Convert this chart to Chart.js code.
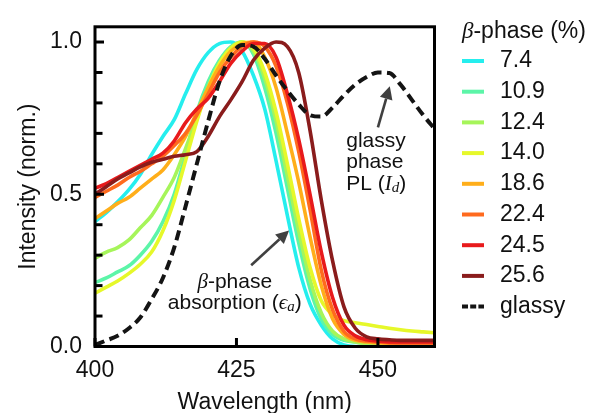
<!DOCTYPE html>
<html>
<head>
<meta charset="utf-8">
<script src="https://cdn.jsdelivr.net/npm/chart.js@4.4.1/dist/chart.umd.min.js"></script>
<style>
  html, body { margin: 0; padding: 0; background: #fff; }
</style>
</head>
<body>
<canvas id="chart" width="604" height="413"></canvas>
<script>
// Data
const wavelengths = [400,402,404,406,408,410,412,414,416,418,420,422,424,426,428,430,432,434,436,438,440,442,444,446,448,450,452,454,456,458,460];
const phaseLabels = ["7.4", "10.9", "12.4", "14.0", "18.6", "22.4", "24.5", "25.6"];
const phaseColors = ["#25eeee", "#5cf5a8", "#a6f55a", "#e6f82a", "#ffae1a", "#ff6a1e", "#e81a1c", "#8a1c1c"];

const beta74  = [0.41,0.44,0.475,0.515,0.565,0.63,0.69,0.745,0.83,0.91,0.965,0.995,1.0,0.97,0.89,0.78,0.61,0.43,0.26,0.14,0.07,0.025,0.005,0,0,0,0,0,0,0,0];
const beta109 = [0.21,0.225,0.245,0.265,0.30,0.345,0.41,0.50,0.63,0.77,0.87,0.94,0.985,1.0,0.96,0.85,0.70,0.52,0.34,0.19,0.09,0.04,0.02,0.015,0.01,0.01,0.01,0.01,0.01,0.01,0.01];
const beta124 = [0.29,0.31,0.325,0.35,0.39,0.43,0.49,0.555,0.65,0.75,0.85,0.93,0.98,1.0,0.97,0.88,0.74,0.56,0.38,0.22,0.11,0.05,0.025,0.015,0.01,0.01,0.01,0.01,0.01,0.01,0.01];
const beta140 = [0.175,0.195,0.215,0.24,0.27,0.31,0.38,0.48,0.61,0.74,0.85,0.93,0.98,1.0,0.98,0.90,0.77,0.60,0.42,0.26,0.15,0.105,0.085,0.078,0.072,0.066,0.06,0.055,0.051,0.048,0.045];
const beta186 = [0.42,0.445,0.47,0.49,0.52,0.55,0.58,0.63,0.69,0.77,0.85,0.92,0.97,0.995,1.0,0.95,0.85,0.70,0.54,0.36,0.20,0.09,0.04,0.02,0.015,0.012,0.01,0.01,0.01,0.01,0.01];
const beta224 = [0.49,0.51,0.53,0.555,0.575,0.60,0.625,0.66,0.70,0.76,0.83,0.90,0.95,0.985,1.0,0.985,0.92,0.80,0.64,0.45,0.25,0.12,0.05,0.025,0.018,0.015,0.012,0.01,0.01,0.01,0.01];
const beta245 = [0.52,0.535,0.555,0.575,0.595,0.615,0.635,0.675,0.735,0.78,0.815,0.87,0.93,0.97,0.995,0.995,0.95,0.83,0.68,0.50,0.31,0.16,0.07,0.035,0.022,0.018,0.015,0.015,0.015,0.015,0.015];
const beta256 = [0.50,0.525,0.55,0.57,0.59,0.605,0.615,0.625,0.63,0.64,0.69,0.755,0.81,0.87,0.94,0.98,1.0,0.985,0.90,0.71,0.48,0.28,0.13,0.06,0.032,0.025,0.022,0.02,0.02,0.02,0.02];
const glassy  = [0.005,0.02,0.035,0.06,0.095,0.155,0.225,0.325,0.46,0.60,0.74,0.87,0.955,0.99,0.985,0.945,0.89,0.84,0.795,0.76,0.755,0.785,0.825,0.86,0.885,0.90,0.898,0.86,0.81,0.76,0.715];

const xTickValues = [400, 425, 450];
const yTickValues = [0, 0.5, 1.0];
const yMinorTicks = [0,0.1,0.2,0.3,0.4,0.5,0.6,0.7,0.8,0.9,1.0];

const phaseSeries = [beta74, beta109, beta124, beta140, beta186, beta224, beta245, beta256];

const SANS = '"Liberation Sans", Arial, Helvetica, sans-serif';
const SERIF = '"Liberation Serif", "DejaVu Serif", serif';
const INK = "#111";

// annotation anchors in data units
const absorptionNote = { lines: [420 + 4.7, 0.21, 0.142], tail: [427.6, 0.267], tip: [434.3, 0.381] };
const glassyNote = { x: 444.4, lines: [0.675, 0.606, 0.533], tail: [450.0, 0.72], tip: [452.1, 0.855] };

function toPoints(arr) {
    return wavelengths.map((w, i) => ({ x: w, y: arr[i] }));
}

const datasets = phaseSeries.map((s, i) => ({
    label: phaseLabels[i],
    data: toPoints(s),
    borderColor: phaseColors[i],
    borderWidth: 3.6,
    pointRadius: 0,
    cubicInterpolationMode: "monotone",
    order: phaseSeries.length - i
}));
datasets.push({
    label: "glassy",
    data: toPoints(glassy),
    borderColor: "#141414",
    borderWidth: 4,
    borderDash: [10, 5.5],
    pointRadius: 0,
    cubicInterpolationMode: "monotone",
    order: 0
});

// draws mixed-font text pieces, returns nothing
function drawRich(ctx, parts, x, y, align) {
    let total = 0;
    parts.forEach(p => { ctx.font = p.font; p.w = ctx.measureText(p.t).width; total += p.w; });
    let cx = align === "center" ? x - total / 2 : x;
    ctx.textBaseline = "middle";
    ctx.textAlign = "left";
    parts.forEach(p => {
        ctx.font = p.font;
        ctx.fillText(p.t, cx, y + (p.dy || 0));
        cx += p.w;
    });
}

function drawArrow(ctx, x1, y1, x2, y2) {
    const ang = Math.atan2(y2 - y1, x2 - x1);
    const headLen = 13, headW = 6.5;
    const bx = x2 - headLen * Math.cos(ang), by = y2 - headLen * Math.sin(ang);
    ctx.save();
    ctx.strokeStyle = "#404040";
    ctx.fillStyle = "#404040";
    ctx.lineWidth = 2.6;
    ctx.beginPath();
    ctx.moveTo(x1, y1);
    ctx.lineTo(bx, by);
    ctx.stroke();
    ctx.beginPath();
    ctx.moveTo(x2, y2);
    ctx.lineTo(bx + headW * Math.sin(ang), by - headW * Math.cos(ang));
    ctx.lineTo(bx - headW * Math.sin(ang), by + headW * Math.cos(ang));
    ctx.closePath();
    ctx.fill();
    ctx.restore();
}

const framePlugin = {
    id: "frame",
    afterDatasetsDraw(chart) {
        const { ctx, chartArea: a, scales } = chart;
        ctx.save();
        ctx.strokeStyle = "#000";
        ctx.lineWidth = 3;
        // inward ticks
        yMinorTicks.forEach(v => {
            const py = scales.y.getPixelForValue(v);
            const major = yTickValues.some(t => Math.abs(t - v) < 1e-6);
            ctx.beginPath();
            ctx.moveTo(a.left, py);
            ctx.lineTo(a.left + (major ? 9 : 7.5), py);
            ctx.stroke();
        });
        xTickValues.forEach(v => {
            const px = scales.x.getPixelForValue(v);
            ctx.beginPath();
            ctx.moveTo(px, a.bottom);
            ctx.lineTo(px, a.bottom - 8.5);
            ctx.stroke();
        });
        ctx.strokeRect(a.left, a.top, a.right - a.left, a.bottom - a.top);
        ctx.restore();

        // annotations
        const X = v => scales.x.getPixelForValue(v);
        const Y = v => scales.y.getPixelForValue(v);
        ctx.save();
        ctx.fillStyle = INK;
        const f = "21px " + SANS, fi = "italic 21px " + SERIF, fs = "italic 15px " + SERIF;
        const ax = X(absorptionNote.lines[0]);
        drawRich(ctx, [{ t: "\u03b2", font: fi }, { t: "-phase", font: f }], ax, Y(absorptionNote.lines[1]), "center");
        drawRich(ctx, [{ t: "absorption (", font: f }, { t: "\u03f5", font: fi }, { t: "a", font: fs, dy: 4 }, { t: ")", font: f }], ax, Y(absorptionNote.lines[2]), "center");
        drawArrow(ctx, X(absorptionNote.tail[0]), Y(absorptionNote.tail[1]), X(absorptionNote.tip[0]), Y(absorptionNote.tip[1]));

        const gx = X(glassyNote.x);
        drawRich(ctx, [{ t: "glassy", font: f }], gx, Y(glassyNote.lines[0]), "left");
        drawRich(ctx, [{ t: "phase", font: f }], gx, Y(glassyNote.lines[1]), "left");
        drawRich(ctx, [{ t: "PL (", font: f }, { t: "I", font: fi }, { t: "d", font: fs, dy: 4 }, { t: ")", font: f }], gx, Y(glassyNote.lines[2]), "left");
        drawArrow(ctx, X(glassyNote.tail[0]), Y(glassyNote.tail[1]), X(glassyNote.tip[0]), Y(glassyNote.tip[1]));
        ctx.restore();
    }
};

const legendPlugin = {
    id: "sideLegend",
    afterDraw(chart) {
        const { ctx } = chart;
        const left = 462, sampleW = 22, textX = 500, top = 61, gap = 30.7;
        ctx.save();
        ctx.fillStyle = INK;
        drawRich(ctx, [{ t: "\u03b2", font: "italic 23px " + SERIF }, { t: "-phase (%)", font: "23px " + SANS }], left, 31.5, "left");
        chart.data.datasets.forEach((ds, i) => {
            const y = top + gap * i;
            ctx.beginPath();
            ctx.strokeStyle = ds.borderColor;
            ctx.lineWidth = 4;
            ctx.setLineDash(ds.borderDash ? [6, 2.2] : []);
            ctx.moveTo(left, y);
            ctx.lineTo(left + sampleW, y);
            ctx.stroke();
            ctx.setLineDash([]);
            ctx.fillStyle = INK;
            ctx.font = "23px " + SANS;
            ctx.textBaseline = "middle";
            ctx.textAlign = "left";
            ctx.fillText(ds.label, textX, y);
        });
        ctx.restore();
    }
};

new Chart(document.getElementById("chart"), {
    type: "line",
    data: { datasets: datasets },
    options: {
        responsive: false,
        animation: false,
        layout: { padding: { top: 14.5, right: 169.5, left: 0, bottom: 0 } },
        plugins: { legend: { display: false }, tooltip: { enabled: false } },
        scales: {
            x: {
                type: "linear",
                min: 400,
                max: 460,
                afterBuildTicks: axis => { axis.ticks = xTickValues.map(v => ({ value: v })); },
                afterFit: axis => { axis.height = 66.5; },
                grid: { display: false, drawTicks: false },
                border: { display: false },
                ticks: { padding: 10, maxRotation: 0, color: INK, font: { family: SANS, size: 23 }, callback: v => String(v) },
                title: { display: true, text: "Wavelength (nm)", color: INK, font: { family: SANS, size: 23, lineHeight: 0.8 }, padding: { top: 0, bottom: 1 } }
            },
            y: {
                min: 0,
                max: 1.05,
                afterBuildTicks: axis => { axis.ticks = yTickValues.map(v => ({ value: v })); },
                afterFit: axis => { axis.width = 95; },
                grid: { display: false, drawTicks: false },
                border: { display: false },
                ticks: { padding: 13, color: INK, font: { family: SANS, size: 23 }, callback: v => Number(v).toFixed(1) },
                title: { display: true, text: "Intensity (norm.)", color: INK, font: { family: SANS, size: 23 }, padding: { top: 15, bottom: 0 } }
            }
        }
    },
    plugins: [framePlugin, legendPlugin]
});
</script>
</body>
</html>
